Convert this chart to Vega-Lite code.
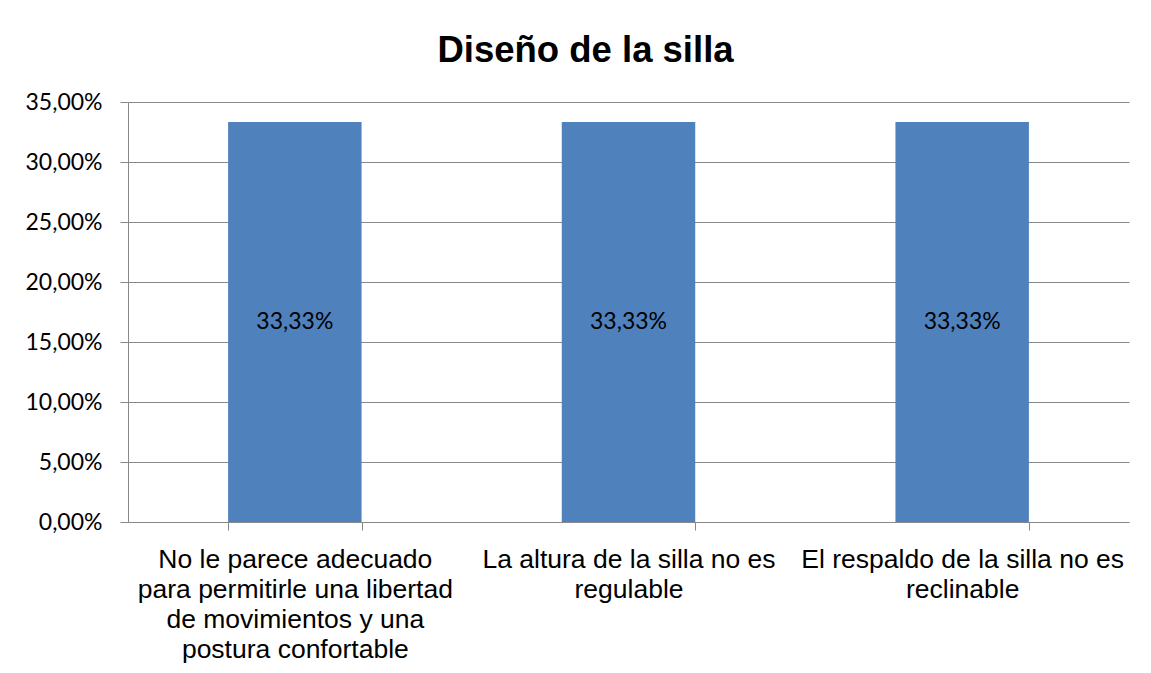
{
  "$schema": "https://vega.github.io/schema/vega-lite/v6.json",
  "width": 1001,
  "height": 420,
  "autosize": {"type": "none"},
  "padding": {"left": 128, "top": 102, "right": 22, "bottom": 151},
  "background": "white",
  "title": {
    "text": "Diseño de la silla",
    "font": "Liberation Sans",
    "fontSize": 36.5,
    "fontWeight": "bold",
    "color": "black",
    "anchor": "middle",
    "dx": -43,
    "offset": 22
  },
  "data": {
    "values": [
      {"motivo": "No le parece adecuado para permitirle una libertad de movimientos y una postura confortable", "porcentaje": 0.3333},
      {"motivo": "La altura de la silla no es regulable", "porcentaje": 0.3333},
      {"motivo": "El respaldo de la silla no es reclinable", "porcentaje": 0.3333}
    ]
  },
  "encoding": {
    "x": {
      "field": "motivo",
      "type": "nominal",
      "sort": null,
      "scale": {"paddingInner": 0.6, "paddingOuter": 0.3},
      "axis": {
        "title": null,
        "labelAngle": 0,
        "labelExpr": "datum.value == 'No le parece adecuado para permitirle una libertad de movimientos y una postura confortable' ? ['No le parece adecuado', 'para permitirle una libertad', 'de movimientos y una', 'postura confortable'] : datum.value == 'La altura de la silla no es regulable' ? ['La altura de la silla no es', 'regulable'] : datum.value == 'El respaldo de la silla no es reclinable' ? ['El respaldo de la silla no es', 'reclinable'] : ''",
        "labelFont": "Liberation Sans",
        "labelFontSize": 26.5,
        "labelLineHeight": 30,
        "labelColor": "black",
        "labelPadding": 16,
        "labelLimit": 0,
        "labelBaseline": "top",
        "tickSize": 8,
        "tickBand": "extent",
        "domainColor": "#888888",
        "tickColor": "#888888",
        "grid": false
      }
    }
  },
  "layer": [
    {
      "mark": {"type": "bar", "color": "#4F81BD"},
      "encoding": {
        "y": {
          "field": "porcentaje",
          "type": "quantitative",
          "scale": {"domain": [0, 0.35]},
          "axis": {
            "title": null,
            "values": [0, 0.05, 0.1, 0.15, 0.2, 0.25, 0.3, 0.35],
            "format": ".2%",
            "grid": true,
            "gridColor": "#888888",
            "domainColor": "#888888",
            "tickColor": "#888888",
            "tickSize": 8,
            "labelFont": "Lato",
            "labelFontSize": 23,
            "labelColor": "black",
            "labelPadding": 18
          }
        }
      }
    },
    {
      "transform": [{"calculate": "datum.porcentaje / 2", "as": "medio"}],
      "mark": {"type": "text", "font": "Lato", "fontSize": 23, "color": "black"},
      "encoding": {
        "y": {"field": "medio", "type": "quantitative"},
        "text": {"field": "porcentaje", "type": "quantitative", "format": ".2%"}
      }
    }
  ],
  "config": {
    "locale": {"number": {"decimal": ",", "thousands": ".", "grouping": [3], "currency": ["", " €"]}},
    "view": {"stroke": null}
  }
}
